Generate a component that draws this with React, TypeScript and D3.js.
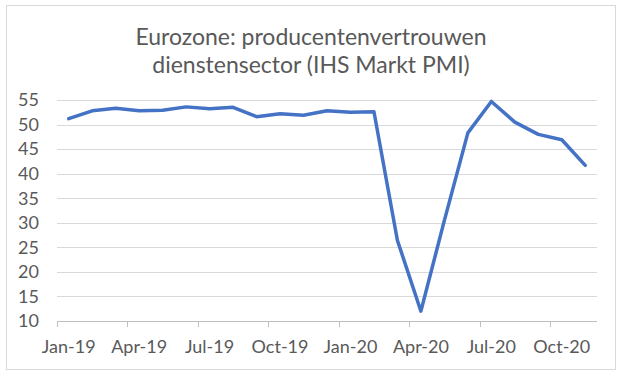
import React, { useEffect, useRef } from "react";
import * as d3 from "d3";

const months = [
  "Jan-19","Feb-19","Mar-19","Apr-19","May-19","Jun-19","Jul-19","Aug-19","Sep-19","Oct-19","Nov-19","Dec-19",
  "Jan-20","Feb-20","Mar-20","Apr-20","May-20","Jun-20","Jul-20","Aug-20","Sep-20","Oct-20","Nov-20",
];
const pmi = [
  51.2, 52.8, 53.3, 52.8, 52.9, 53.6, 53.2, 53.5, 51.6, 52.2, 51.9, 52.8,
  52.5, 52.6, 26.4, 12.0, 30.5, 48.3, 54.7, 50.5, 48.0, 46.9, 41.7,
];
const yTicks = [10, 15, 20, 25, 30, 35, 40, 45, 50, 55];
const titleLines = ["Eurozone: producentenvertrouwen", "dienstensector (IHS Markt PMI)"];

export default function App() {
  const ref = useRef<SVGSVGElement>(null);
  useEffect(() => {
    const svg = d3.select(ref.current);
    svg.selectAll("*").remove();
    const W = 625, H = 377;
    const left = 57, right = 597, top = 100, bottom = 321;
    const font = "Lato, 'Open Sans', sans-serif";
    const grey = "#595959";

    svg.append("rect").attr("x", 0).attr("y", 0).attr("width", W).attr("height", H).attr("fill", "#fff");
    svg.append("rect").attr("x", 6.5).attr("y", 5.5).attr("width", 609).attr("height", 364)
      .attr("fill", "none").attr("stroke", "#d9d9d9").attr("stroke-width", 1);

    const x = d3.scaleBand<string>().domain(months).range([left, right]).padding(0);
    const y = d3.scaleLinear().domain([10, 55]).range([bottom, top]);

    // gridlines
    svg.append("g").selectAll("line").data(yTicks.filter(t => t !== 10)).join("line")
      .attr("x1", left).attr("x2", right)
      .attr("y1", d => Math.round(y(d)) + 0.5).attr("y2", d => Math.round(y(d)) + 0.5)
      .attr("stroke", "#d9d9d9").attr("stroke-width", 1);

    // x axis line
    svg.append("line").attr("x1", left).attr("x2", right)
      .attr("y1", Math.round(y(10)) + 0.5).attr("y2", Math.round(y(10)) + 0.5)
      .attr("stroke", "#bfbfbf").attr("stroke-width", 1);

    // ticks at boundaries every 3 categories
    const tickIdx = months.map((_, i) => i).filter(i => i % 3 === 0);
    svg.append("g").selectAll("line").data(tickIdx).join("line")
      .attr("x1", i => Math.round(x(months[i])!) + 0.5).attr("x2", i => Math.round(x(months[i])!) + 0.5)
      .attr("y1", Math.round(y(10)) + 0.5).attr("y2", Math.round(y(10)) + 6)
      .attr("stroke", "#bfbfbf").attr("stroke-width", 1);

    // y labels
    svg.append("g").selectAll("text").data(yTicks).join("text")
      .attr("x", 39).attr("y", d => y(d)).attr("dy", "0.35em")
      .attr("text-anchor", "end").attr("font-family", font).attr("font-size", 18).attr("fill", grey)
      .text(d => String(d));

    // x labels
    svg.append("g").selectAll("text").data(tickIdx).join("text")
      .attr("x", i => x(months[i])! + x.bandwidth() / 2).attr("y", 347).attr("dy", "0.35em")
      .attr("text-anchor", "middle").attr("font-family", font).attr("font-size", 18).attr("fill", grey)
      .text(i => months[i]);

    // line
    const line = d3.line<number>()
      .x((_, i) => x(months[i])! + x.bandwidth() / 2)
      .y(d => y(d));
    svg.append("path").datum(pmi).attr("d", line).attr("fill", "none")
      .attr("stroke", "#4472C4").attr("stroke-width", 3.5).attr("stroke-linejoin", "round").attr("stroke-linecap", "round");

    // title
    svg.append("g").selectAll("text").data(titleLines).join("text")
      .attr("x", 311).attr("y", (_, i) => 37 + i * 28).attr("dy", "0.35em")
      .attr("text-anchor", "middle").attr("font-family", font).attr("font-size", 23).attr("fill", grey)
      .text(d => d);
  }, []);
  return (
    <svg ref={ref} width={625} height={377}
      style={{ position: "absolute", left: 0, top: 0, display: "block" }} />
  );
}
